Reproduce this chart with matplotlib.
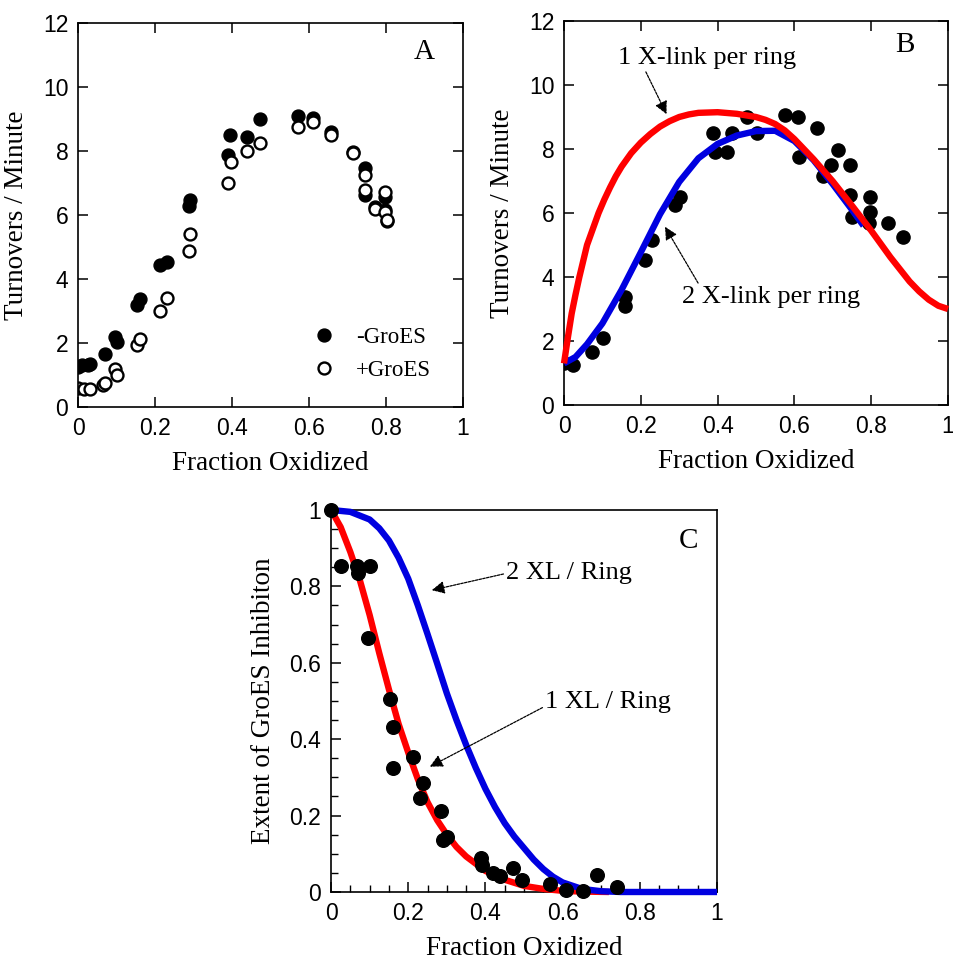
import numpy as np
import matplotlib
matplotlib.use("Agg")
import matplotlib.pyplot as plt

# ---- panel A: turnovers vs fraction oxidized, with/without GroES ----
a_minus_x = [0.0, 0.01, 0.025, 0.03, 0.07, 0.096, 0.10, 0.152, 0.161, 0.213, 0.23,
             0.287, 0.29, 0.39, 0.395, 0.438, 0.473, 0.572, 0.609, 0.656, 0.713,
             0.745, 0.745, 0.771, 0.797, 0.797, 0.802]
a_minus_y = [1.25, 1.3, 1.3, 1.35, 1.65, 2.2, 2.04, 3.18, 3.39, 4.43, 4.54,
             6.27, 6.46, 7.87, 8.51, 8.44, 8.99, 9.09, 9.02, 8.6, 7.98,
             7.46, 6.63, 6.26, 6.57, 6.15, 5.82]
a_plus_x = [0.0, 0.015, 0.03, 0.065, 0.07, 0.096, 0.10, 0.152, 0.161, 0.213, 0.23,
            0.287, 0.29, 0.39, 0.396, 0.438, 0.473, 0.572, 0.609, 0.656, 0.713,
            0.745, 0.745, 0.771, 0.797, 0.797, 0.802]
a_plus_y = [0.58, 0.56, 0.55, 0.7, 0.74, 1.2, 1.0, 1.93, 2.11, 3.0, 3.42,
            4.87, 5.42, 7.0, 7.66, 7.99, 8.25, 8.76, 8.9, 8.5, 7.95,
            7.25, 6.78, 6.2, 6.73, 6.1, 5.85]

# ---- panel B: -GroES data with two model curves ----
b_x = [0.0, 0.024, 0.072, 0.102, 0.159, 0.159, 0.211, 0.228, 0.289, 0.302,
       0.389, 0.393, 0.424, 0.437, 0.476, 0.502, 0.576, 0.61, 0.658, 0.613,
       0.675, 0.695, 0.714, 0.745, 0.745, 0.749, 0.797, 0.797, 0.793, 0.845, 0.882]
b_y = [1.3, 1.25, 1.67, 2.08, 3.39, 3.08, 4.53, 5.16, 6.25, 6.51,
       8.49, 7.92, 7.92, 8.49, 9.0, 8.49, 9.06, 9.01, 8.65, 7.76,
       7.15, 7.5, 7.97, 7.5, 6.56, 5.89, 6.51, 6.04, 5.68, 5.68, 5.26]

b_one_x = [0.0, 0.01, 0.02, 0.03, 0.04, 0.05, 0.06, 0.075, 0.09, 0.105, 0.12,
           0.135, 0.15, 0.175, 0.2, 0.225, 0.25, 0.275, 0.3, 0.325, 0.35, 0.4,
           0.45, 0.5, 0.525, 0.55, 0.575, 0.6, 0.65, 0.7, 0.75, 0.8, 0.85,
           0.9, 0.925, 0.95, 0.975, 1.0]
b_one_y = [1.3, 2.1, 2.86, 3.45, 4.0, 4.5, 5.0, 5.5, 6.0, 6.42, 6.8,
           7.15, 7.45, 7.87, 8.2, 8.47, 8.7, 8.87, 9.0, 9.08, 9.13, 9.15,
           9.1, 9.0, 8.91, 8.78, 8.58, 8.31, 7.68, 6.99, 6.23, 5.45, 4.62,
           3.86, 3.55, 3.29, 3.1, 3.0]
b_two_x = [0.0, 0.03, 0.06, 0.1, 0.15, 0.2, 0.25, 0.3, 0.35, 0.4, 0.45, 0.5,
           0.55, 0.6, 0.65, 0.7, 0.75, 0.78]
b_two_y = [1.3, 1.5, 1.9, 2.55, 3.6, 4.77, 5.96, 6.97, 7.71, 8.16, 8.42, 8.56,
           8.57, 8.25, 7.65, 6.9, 6.1, 5.6]

# ---- panel C: extent of GroES inhibition ----
c_x = [0.0, 0.026, 0.066, 0.07, 0.10, 0.095, 0.153, 0.161, 0.161, 0.213, 0.239,
       0.23, 0.285, 0.30, 0.29, 0.389, 0.39, 0.42, 0.437, 0.472, 0.494, 0.567,
       0.61, 0.654, 0.688, 0.742]
c_y = [1.0, 0.852, 0.852, 0.835, 0.852, 0.664, 0.505, 0.433, 0.324, 0.354, 0.286,
       0.245, 0.213, 0.145, 0.136, 0.088, 0.07, 0.049, 0.042, 0.064, 0.031, 0.02,
       0.005, 0.003, 0.044, 0.014]

c_one_x = [0.0, 0.025, 0.05, 0.075, 0.1, 0.125, 0.15, 0.175, 0.2, 0.225, 0.25,
           0.275, 0.3, 0.325, 0.35, 0.4, 0.45, 0.5, 0.55, 0.6, 0.65, 0.72]
c_one_y = [1.0, 0.955, 0.89, 0.815, 0.725, 0.625, 0.53, 0.44, 0.365, 0.295, 0.235,
           0.188, 0.15, 0.118, 0.093, 0.055, 0.032, 0.016, 0.008, 0.003, 0.001, 0.0]
c_two_x = [0.0, 0.05, 0.1, 0.125, 0.15, 0.175, 0.2, 0.225, 0.25, 0.275, 0.3,
           0.325, 0.35, 0.375, 0.4, 0.425, 0.45, 0.475, 0.5, 0.525, 0.55, 0.575,
           0.6, 0.65, 0.7, 0.75, 1.0]
c_two_y = [1.0, 0.995, 0.975, 0.952, 0.92, 0.875, 0.82, 0.75, 0.675, 0.598, 0.52,
           0.45, 0.385, 0.325, 0.27, 0.222, 0.18, 0.145, 0.115, 0.085, 0.06, 0.04,
           0.025, 0.008, 0.002, 0.0, 0.0]

SERIF = "Liberation Serif"
SANS = "Liberation Sans"
RED = "#ff0000"
BLUE = "#0000e0"

frac_ticks = [0, 0.2, 0.4, 0.6, 0.8, 1]
frac_labels = ["0", "0.2", "0.4", "0.6", "0.8", "1"]


def style_axes(ax, box_ticks=True):
    for sp in ax.spines.values():
        sp.set_linewidth(1.2)
    ax.tick_params(which="major", direction="in", length=7, width=1.1,
                   labelsize=16.5, pad=7, top=box_ticks, right=box_ticks)
    ax.tick_params(which="minor", direction="in", length=5, width=1.0,
                   top=False, right=False)
    for lab in ax.get_xticklabels() + ax.get_yticklabels():
        lab.set_fontfamily(SANS)


fig = plt.figure(figsize=(9.54, 9.64), dpi=100)

# Panel A
axA = fig.add_axes([0.0818, 0.5778, 0.4036, 0.3983])
axA.plot(a_minus_x, a_minus_y, "o", color="black", markersize=9.3, label="-GroES")
axA.plot(a_plus_x, a_plus_y, "o", markerfacecolor="white", markeredgecolor="black",
         markeredgewidth=1.7, markersize=8.6, label="+GroES")
axA.set_xlim(0, 1)
axA.set_ylim(0, 12)
axA.set_xticks(frac_ticks, frac_labels)
axA.set_yticks(range(0, 13, 2))
style_axes(axA)
axA.set_xlabel("Fraction Oxidized", family=SERIF, fontsize=19.5, labelpad=8)
axA.set_ylabel("Turnovers / Minute", family=SERIF, fontsize=19.5, labelpad=10)
axA.text(0.9, 0.925, "A", transform=axA.transAxes, family=SERIF, fontsize=21,
         ha="center", va="center")
axA.legend(loc="center left", bbox_to_anchor=(0.585, 0.138), frameon=False,
           prop={"family": SERIF, "size": 16.5}, handlelength=1.0,
           handletextpad=0.9, labelspacing=0.5, borderaxespad=0)

# Panel B
axB = fig.add_axes([0.5912, 0.5799, 0.4025, 0.3983])
axB.plot(b_x, b_y, "o", color="black", markersize=9.5, zorder=2)
axB.plot(b_two_x, b_two_y, color=BLUE, linewidth=4.6, zorder=3,
         solid_capstyle="butt")
axB.plot(b_one_x, b_one_y, color=RED, linewidth=4.6, zorder=4, clip_on=False,
         solid_capstyle="butt")
axB.set_xlim(0, 1)
axB.set_ylim(0, 12)
axB.set_xticks(frac_ticks, frac_labels)
axB.set_yticks(range(0, 13, 2))
style_axes(axB)
axB.set_xlabel("Fraction Oxidized", family=SERIF, fontsize=19.5, labelpad=8)
axB.set_ylabel("Turnovers / Minute", family=SERIF, fontsize=19.5, labelpad=10)
axB.text(0.888, 0.9375, "B", transform=axB.transAxes, family=SERIF, fontsize=21,
         ha="center", va="center")
axB.annotate("1 X-link per ring", xy=(0.267, 9.09), xytext=(0.372, 10.84),
             family=SERIF, fontsize=19, ha="center", va="center",
             arrowprops=dict(arrowstyle="-|>", color="black", lw=0.9,
                             linestyle=(0, (2, 1)), shrinkA=0, shrinkB=0,
                             relpos=(0.15, 0.0)))
axB.annotate("2 X-link per ring", xy=(0.263, 5.57), xytext=(0.539, 3.38),
             family=SERIF, fontsize=19, ha="center", va="center",
             arrowprops=dict(arrowstyle="-|>", color="black", lw=0.9,
                             linestyle=(0, (2, 1)), shrinkA=0, shrinkB=0,
                             relpos=(0.1, 1.0)))

# Panel C
axC = fig.add_axes([0.347, 0.0747, 0.4046, 0.3963])
axC.plot(c_one_x, c_one_y, color=RED, linewidth=4.6, zorder=3, clip_on=False,
         solid_capstyle="butt")
axC.plot(c_two_x, c_two_y, color=BLUE, linewidth=4.6, zorder=3, clip_on=False,
         solid_capstyle="butt")
axC.plot(c_x, c_y, "o", color="black", markersize=9.8, zorder=4, clip_on=False)
axC.set_xlim(0, 1)
axC.set_ylim(0, 1)
axC.set_xticks(frac_ticks, frac_labels)
axC.set_yticks(frac_ticks, frac_labels)
axC.set_xticks(np.arange(0, 1.001, 0.05), minor=True)
axC.set_yticks(np.arange(0, 1.001, 0.05), minor=True)
style_axes(axC, box_ticks=False)
axC.set_xlabel("Fraction Oxidized", family=SERIF, fontsize=19.5, labelpad=8)
axC.set_ylabel("Extent of GroES Inhibiton", family=SERIF, fontsize=19.5, labelpad=10)
axC.text(0.925, 0.92, "C", transform=axC.transAxes, family=SERIF, fontsize=21,
         ha="center", va="center")
axC.annotate("2 XL / Ring", xy=(0.261, 0.79), xytext=(0.617, 0.834),
             family=SERIF, fontsize=19, ha="center", va="center",
             arrowprops=dict(arrowstyle="-|>", color="black", lw=0.9,
                             linestyle=(0, (2, 1)), shrinkA=0, shrinkB=0,
                             relpos=(0.0, 0.5)))
axC.annotate("1 XL / Ring", xy=(0.256, 0.328), xytext=(0.718, 0.498),
             family=SERIF, fontsize=19, ha="center", va="center",
             arrowprops=dict(arrowstyle="-|>", color="black", lw=0.9,
                             linestyle=(0, (2, 1)), shrinkA=0, shrinkB=0,
                             relpos=(0.0, 0.3)))

fig.savefig("out.png", dpi=100)
